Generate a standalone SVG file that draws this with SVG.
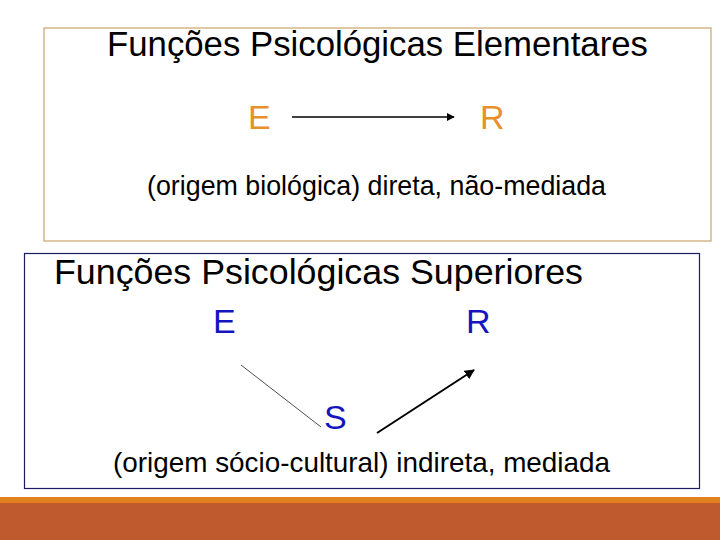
<svg xmlns="http://www.w3.org/2000/svg" width="720" height="540" viewBox="0 0 720 540">
<style>
.t{font-family:"Liberation Sans",Arial,sans-serif;fill:#000}
.o{font-family:"Liberation Sans",Arial,sans-serif;fill:#e8902a}
.b{font-family:"Liberation Sans",Arial,sans-serif;fill:#1414c0}
</style>
<defs>
<marker id="ah" viewBox="0 0 10 10" refX="9" refY="5" markerWidth="5" markerHeight="5" orient="auto" markerUnits="strokeWidth">
<path d="M0,0 L10,5 L0,10 z" fill="#000"/>
</marker>
</defs>
<rect width="720" height="540" fill="#fff"/>
<g id="box-elementares">
<rect x="44" y="28" width="667" height="213" fill="none" stroke="#c9a46a" stroke-width="1.2"/>
<text class="t" x="107" y="56" font-size="35" textLength="541" lengthAdjust="spacingAndGlyphs">Funções Psicológicas Elementares</text>
<text class="t" x="147" y="195" font-size="28" textLength="459" lengthAdjust="spacingAndGlyphs">(origem biológica) direta, não-mediada</text>
</g>
<g id="node-E1"><text class="o" x="248" y="129" font-size="34">E</text></g>
<g id="node-R1"><text class="o" x="480" y="129" font-size="34">R</text></g>
<g id="box-superiores">
<rect x="24.5" y="253.5" width="675" height="235" fill="none" stroke="#1c1c64" stroke-width="1.2"/>
<text class="t" x="54" y="284" font-size="35" textLength="529" lengthAdjust="spacingAndGlyphs">Funções Psicológicas Superiores</text>
<text class="t" x="113" y="472" font-size="28" textLength="497" lengthAdjust="spacingAndGlyphs">(origem sócio-cultural) indireta, mediada</text>
</g>
<g id="node-E2"><text class="b" x="213" y="333" font-size="34">E</text></g>
<g id="node-R2"><text class="b" x="466" y="333" font-size="34">R</text></g>
<g id="node-S"><text class="b" x="324" y="429" font-size="34">S</text></g>
<g id="connectors">
<line x1="292" y1="117" x2="454" y2="117" stroke="#000" stroke-width="1.6" marker-end="url(#ah)"/>
<line x1="241" y1="365" x2="321" y2="427" stroke="#000" stroke-width="0.7"/>
<line x1="377" y1="433" x2="474" y2="370" stroke="#000" stroke-width="2" marker-end="url(#ah)"/>
</g>
<g id="footer">
<rect x="0" y="497" width="720" height="6" fill="#e0801f"/>
<rect x="0" y="503" width="720" height="37" fill="#bf5a2e"/>
</g>
</svg>
